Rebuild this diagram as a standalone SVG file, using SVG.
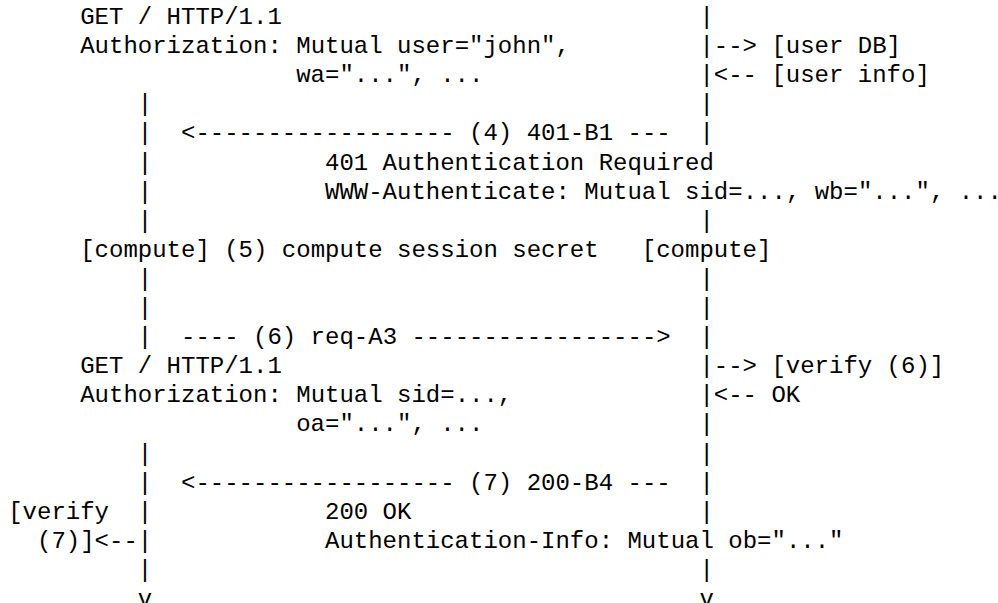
<svg xmlns="http://www.w3.org/2000/svg" width="998" height="603" viewBox="0 0 998 603">
<style>
text { font-family: "Courier New", "Nimbus Mono PS", "Courier", "Liberation Mono", monospace; font-size: 24px; fill: #000; white-space: pre; }
</style>
<rect width="998" height="603" fill="#fff"/>
<g id="client-lifeline">
<text x="137.8" y="111.3">|</text>
<text x="137.8" y="140.4">|</text>
<text x="137.8" y="169.5">|</text>
<text x="137.8" y="198.6">|</text>
<text x="137.8" y="227.7">|</text>
<text x="137.8" y="285.9">|</text>
<text x="137.8" y="315">|</text>
<text x="137.8" y="344.1">|</text>
<text x="137.8" y="460.5">|</text>
<text x="137.8" y="489.6">|</text>
<text x="137.8" y="518.7">|</text>
<text x="137.8" y="547.8">|</text>
<text x="137.8" y="576.9">|</text>
<text x="137.8" y="606">v</text>
</g>
<g id="server-lifeline">
<text x="699.4" y="24">|</text>
<text x="699.4" y="53.1">|</text>
<text x="699.4" y="82.2">|</text>
<text x="699.4" y="111.3">|</text>
<text x="699.4" y="140.4">|</text>
<text x="699.4" y="227.7">|</text>
<text x="699.4" y="285.9">|</text>
<text x="699.4" y="315">|</text>
<text x="699.4" y="344.1">|</text>
<text x="699.4" y="373.2">|</text>
<text x="699.4" y="402.3">|</text>
<text x="699.4" y="431.4">|</text>
<text x="699.4" y="460.5">|</text>
<text x="699.4" y="489.6">|</text>
<text x="699.4" y="518.7">|</text>
<text x="699.4" y="576.9">|</text>
<text x="699.4" y="606">v</text>
</g>
<g id="connectors">
<text x="713.8" y="53.1">--&gt;</text>
<text x="713.8" y="82.2">&lt;--</text>
<text x="181" y="140.4">&lt;------------------ (4) 401-B1 ---</text>
<text x="181" y="344.1">---- (6) req-A3 -----------------&gt;</text>
<text x="713.8" y="373.2">--&gt;</text>
<text x="713.8" y="402.3">&lt;--</text>
<text x="181" y="489.6">&lt;------------------ (7) 200-B4 ---</text>
<text x="94.6" y="547.8">&lt;--</text>
</g>
<g id="req-A1">
<text x="80.2" y="24">GET / HTTP/1.1</text>
<text x="80.2" y="53.1">Authorization: Mutual user="john",</text>
<text x="296.2" y="82.2">wa="...", ...</text>
</g>
<g id="user-db">
<text x="771.4" y="53.1">[user DB]</text>
<text x="771.4" y="82.2">[user info]</text>
</g>
<g id="resp-401-B1">
<text x="325" y="169.5">401 Authentication Required</text>
<text x="325" y="198.6">WWW-Authenticate: Mutual sid=..., wb="...", ...</text>
</g>
<g id="compute-client">
<text x="80.2" y="256.8">[compute] (5) compute session secret</text>
</g>
<g id="compute-server">
<text x="641.8" y="256.8">[compute]</text>
</g>
<g id="req-A3">
<text x="80.2" y="373.2">GET / HTTP/1.1</text>
<text x="80.2" y="402.3">Authorization: Mutual sid=...,</text>
<text x="296.2" y="431.4">oa="...", ...</text>
</g>
<g id="verify-server">
<text x="771.4" y="373.2">[verify (6)]</text>
<text x="771.4" y="402.3">OK</text>
</g>
<g id="resp-200-B4">
<text x="325" y="518.7">200 OK</text>
<text x="325" y="547.8">Authentication-Info: Mutual ob="..."</text>
</g>
<g id="verify-client">
<text x="8.2" y="518.7">[verify</text>
<text x="37" y="547.8">(7)]</text>
</g>
</svg>
